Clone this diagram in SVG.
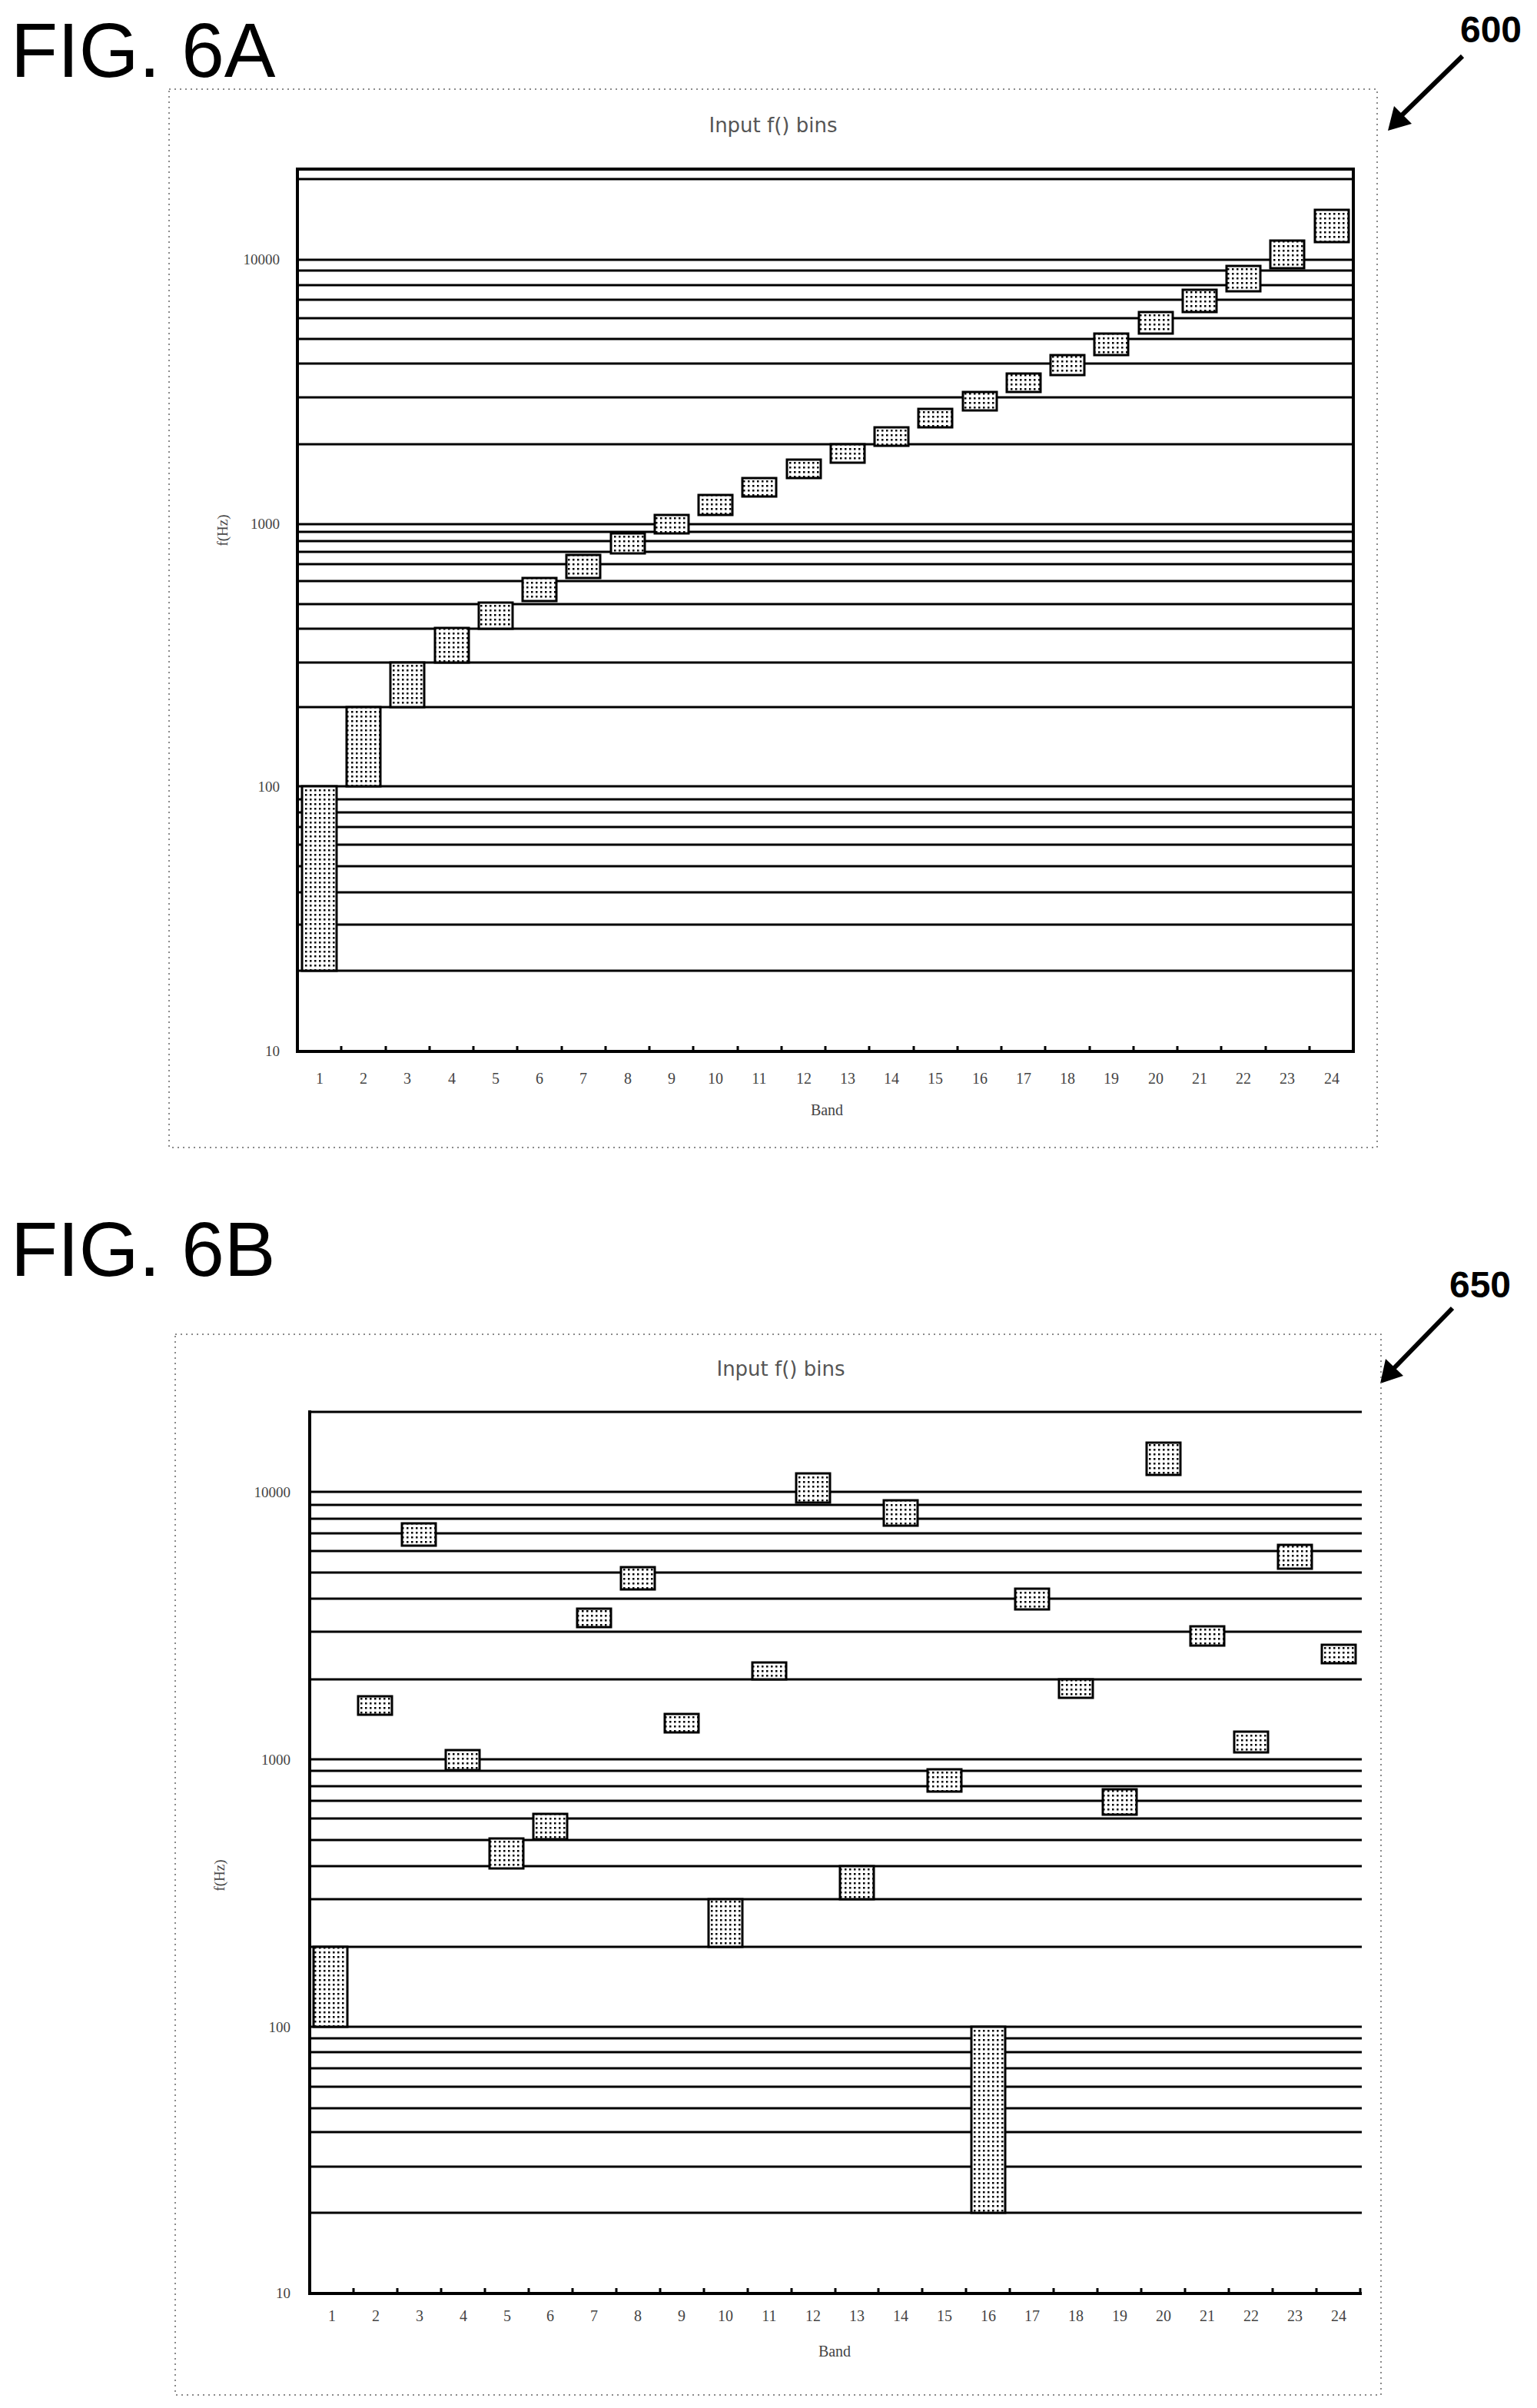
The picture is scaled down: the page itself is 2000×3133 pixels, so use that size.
<svg xmlns="http://www.w3.org/2000/svg" width="2000" height="3133" viewBox="0 0 2000 3133">
<defs>
<pattern id="dots" width="6" height="6" patternUnits="userSpaceOnUse"><rect width="6" height="6" fill="#fff"/><rect x="1" y="1" width="2.5" height="2.5" fill="#000"/></pattern>
<style>
.fig{font-family:"Liberation Sans",Arial,sans-serif;font-size:100px;fill:#000}
.ref{font-family:"Liberation Sans",Arial,sans-serif;font-size:48px;font-weight:bold;fill:#000}
.ttl{font-family:"DejaVu Sans",sans-serif;font-size:26px;fill:#555;text-anchor:middle}
.ax{font-family:"Liberation Serif",serif;font-size:19px;fill:#444}
.tk{font-family:"Liberation Serif",serif;font-size:20px;fill:#444;text-anchor:middle}
.border{fill:none;stroke:#666;stroke-width:1.5;stroke-dasharray:2 5}
.grid line{stroke:#000;stroke-width:3}
.axis{stroke:#000;stroke-width:4;fill:none}
.bar{fill:url(#dots);stroke:#000;stroke-width:3}
</style>
</defs>
<rect width="2000" height="3133" fill="#fff"/>

<!-- FIG 6A -->
<g id="fig6a">
<text class="fig" x="14" y="100">FIG. 6A</text>
<text class="ref" x="1940" y="55" text-anchor="middle">600</text>
<line x1="1903" y1="73" x2="1824" y2="150" stroke="#000" stroke-width="6"/>
<polygon points="1806,170 1814,138 1837,161" fill="#000"/>
<rect class="border" x="220" y="116" width="1572" height="1377"/>
<text class="ttl" x="1006" y="172">Input f() bins</text>
<g class="grid">
<line x1="387" y1="233" x2="1761" y2="233"/>
<line x1="387" y1="338" x2="1761" y2="338"/><line x1="387" y1="352" x2="1761" y2="352"/><line x1="387" y1="371" x2="1761" y2="371"/><line x1="387" y1="390" x2="1761" y2="390"/><line x1="387" y1="414" x2="1761" y2="414"/><line x1="387" y1="441" x2="1761" y2="441"/><line x1="387" y1="473" x2="1761" y2="473"/><line x1="387" y1="517" x2="1761" y2="517"/><line x1="387" y1="578" x2="1761" y2="578"/>
<line x1="387" y1="682" x2="1761" y2="682"/><line x1="387" y1="692" x2="1761" y2="692"/><line x1="387" y1="704" x2="1761" y2="704"/><line x1="387" y1="718" x2="1761" y2="718"/><line x1="387" y1="734" x2="1761" y2="734"/><line x1="387" y1="756" x2="1761" y2="756"/><line x1="387" y1="786" x2="1761" y2="786"/><line x1="387" y1="818" x2="1761" y2="818"/><line x1="387" y1="862" x2="1761" y2="862"/><line x1="387" y1="920" x2="1761" y2="920"/>
<line x1="387" y1="1023" x2="1761" y2="1023"/><line x1="387" y1="1040" x2="1761" y2="1040"/><line x1="387" y1="1057" x2="1761" y2="1057"/><line x1="387" y1="1076" x2="1761" y2="1076"/><line x1="387" y1="1099" x2="1761" y2="1099"/><line x1="387" y1="1127" x2="1761" y2="1127"/><line x1="387" y1="1161" x2="1761" y2="1161"/><line x1="387" y1="1203" x2="1761" y2="1203"/><line x1="387" y1="1263" x2="1761" y2="1263"/>
</g>
<path class="axis" d="M387,220 H1761 V1368 H387 Z"/>
<g class="grid">
<line x1="444" y1="1368" x2="444" y2="1361"/><line x1="502" y1="1368" x2="502" y2="1361"/><line x1="559" y1="1368" x2="559" y2="1361"/><line x1="616" y1="1368" x2="616" y2="1361"/><line x1="673" y1="1368" x2="673" y2="1361"/><line x1="731" y1="1368" x2="731" y2="1361"/><line x1="788" y1="1368" x2="788" y2="1361"/><line x1="845" y1="1368" x2="845" y2="1361"/><line x1="902" y1="1368" x2="902" y2="1361"/><line x1="960" y1="1368" x2="960" y2="1361"/><line x1="1017" y1="1368" x2="1017" y2="1361"/><line x1="1074" y1="1368" x2="1074" y2="1361"/><line x1="1131" y1="1368" x2="1131" y2="1361"/><line x1="1189" y1="1368" x2="1189" y2="1361"/><line x1="1246" y1="1368" x2="1246" y2="1361"/><line x1="1303" y1="1368" x2="1303" y2="1361"/><line x1="1360" y1="1368" x2="1360" y2="1361"/><line x1="1418" y1="1368" x2="1418" y2="1361"/><line x1="1475" y1="1368" x2="1475" y2="1361"/><line x1="1532" y1="1368" x2="1532" y2="1361"/><line x1="1589" y1="1368" x2="1589" y2="1361"/><line x1="1647" y1="1368" x2="1647" y2="1361"/><line x1="1704" y1="1368" x2="1704" y2="1361"/>
</g>
<g id="bars6a">
<rect class="bar" x="393" y="1023" width="45" height="240"/>
<rect class="bar" x="451" y="920" width="44" height="103"/>
<rect class="bar" x="508" y="862" width="44" height="58"/>
<rect class="bar" x="566" y="817" width="44" height="45"/>
<rect class="bar" x="623" y="784" width="44" height="34"/>
<rect class="bar" x="680" y="752" width="44" height="30"/>
<rect class="bar" x="737" y="722" width="44" height="30"/>
<rect class="bar" x="795" y="694" width="44" height="26"/>
<rect class="bar" x="852" y="670" width="44" height="24"/>
<rect class="bar" x="909" y="644" width="44" height="26"/>
<rect class="bar" x="966" y="622" width="44" height="24"/>
<rect class="bar" x="1024" y="598" width="44" height="24"/>
<rect class="bar" x="1081" y="578" width="44" height="24"/>
<rect class="bar" x="1138" y="556" width="44" height="24"/>
<rect class="bar" x="1195" y="532" width="44" height="24"/>
<rect class="bar" x="1253" y="510" width="44" height="24"/>
<rect class="bar" x="1310" y="486" width="44" height="24"/>
<rect class="bar" x="1367" y="462" width="44" height="26"/>
<rect class="bar" x="1424" y="434" width="44" height="28"/>
<rect class="bar" x="1482" y="406" width="44" height="28"/>
<rect class="bar" x="1539" y="377" width="44" height="29"/>
<rect class="bar" x="1596" y="346" width="44" height="33"/>
<rect class="bar" x="1653" y="313" width="44" height="36"/>
<rect class="bar" x="1711" y="273" width="44" height="42"/>
</g>
<text class="ax" x="364" y="344" text-anchor="end">10000</text>
<text class="ax" x="364" y="688" text-anchor="end">1000</text>
<text class="ax" x="364" y="1030" text-anchor="end">100</text>
<text class="ax" x="364" y="1374" text-anchor="end">10</text>
<text class="ax" transform="translate(296,690) rotate(-90)" text-anchor="middle">f(Hz)</text>
<g class="tk">
<text x="416" y="1410">1</text><text x="473" y="1410">2</text><text x="530" y="1410">3</text><text x="588" y="1410">4</text><text x="645" y="1410">5</text><text x="702" y="1410">6</text><text x="759" y="1410">7</text><text x="817" y="1410">8</text><text x="874" y="1410">9</text><text x="931" y="1410">10</text><text x="988" y="1410">11</text><text x="1046" y="1410">12</text><text x="1103" y="1410">13</text><text x="1160" y="1410">14</text><text x="1217" y="1410">15</text><text x="1275" y="1410">16</text><text x="1332" y="1410">17</text><text x="1389" y="1410">18</text><text x="1446" y="1410">19</text><text x="1504" y="1410">20</text><text x="1561" y="1410">21</text><text x="1618" y="1410">22</text><text x="1675" y="1410">23</text><text x="1733" y="1410">24</text>
<text x="1076" y="1451">Band</text>
</g>
</g>

<!-- FIG 6B -->
<g id="fig6b">
<text class="fig" x="14" y="1660">FIG. 6B</text>
<text class="ref" x="1926" y="1688" text-anchor="middle">650</text>
<line x1="1890" y1="1702" x2="1814" y2="1780" stroke="#000" stroke-width="6"/>
<polygon points="1796,1800 1803,1768 1826,1790" fill="#000"/>
<rect class="border" x="228" y="1736" width="1569" height="1380"/>
<text class="ttl" x="1016" y="1790">Input f() bins</text>
<g class="grid">
<line x1="403" y1="1837" x2="1772" y2="1837"/>
<line x1="403" y1="1941" x2="1772" y2="1941"/><line x1="403" y1="1958" x2="1772" y2="1958"/><line x1="403" y1="1976" x2="1772" y2="1976"/><line x1="403" y1="1995" x2="1772" y2="1995"/><line x1="403" y1="2018" x2="1772" y2="2018"/><line x1="403" y1="2046" x2="1772" y2="2046"/><line x1="403" y1="2080" x2="1772" y2="2080"/><line x1="403" y1="2123" x2="1772" y2="2123"/><line x1="403" y1="2185" x2="1772" y2="2185"/>
<line x1="403" y1="2289" x2="1772" y2="2289"/><line x1="403" y1="2304" x2="1772" y2="2304"/><line x1="403" y1="2324" x2="1772" y2="2324"/><line x1="403" y1="2343" x2="1772" y2="2343"/><line x1="403" y1="2366" x2="1772" y2="2366"/><line x1="403" y1="2394" x2="1772" y2="2394"/><line x1="403" y1="2428" x2="1772" y2="2428"/><line x1="403" y1="2471" x2="1772" y2="2471"/><line x1="403" y1="2533" x2="1772" y2="2533"/>
<line x1="403" y1="2637" x2="1772" y2="2637"/><line x1="403" y1="2652" x2="1772" y2="2652"/><line x1="403" y1="2670" x2="1772" y2="2670"/><line x1="403" y1="2691" x2="1772" y2="2691"/><line x1="403" y1="2715" x2="1772" y2="2715"/><line x1="403" y1="2743" x2="1772" y2="2743"/><line x1="403" y1="2774" x2="1772" y2="2774"/><line x1="403" y1="2819" x2="1772" y2="2819"/><line x1="403" y1="2879" x2="1772" y2="2879"/>
</g>
<path class="axis" d="M403,1835 V2984 H1772"/>
<g class="grid">
<line x1="460" y1="2984" x2="460" y2="2977"/><line x1="517" y1="2984" x2="517" y2="2977"/><line x1="574" y1="2984" x2="574" y2="2977"/><line x1="631" y1="2984" x2="631" y2="2977"/><line x1="688" y1="2984" x2="688" y2="2977"/><line x1="745" y1="2984" x2="745" y2="2977"/><line x1="802" y1="2984" x2="802" y2="2977"/><line x1="859" y1="2984" x2="859" y2="2977"/><line x1="916" y1="2984" x2="916" y2="2977"/><line x1="973" y1="2984" x2="973" y2="2977"/><line x1="1030" y1="2984" x2="1030" y2="2977"/><line x1="1087" y1="2984" x2="1087" y2="2977"/><line x1="1143" y1="2984" x2="1143" y2="2977"/><line x1="1200" y1="2984" x2="1200" y2="2977"/><line x1="1257" y1="2984" x2="1257" y2="2977"/><line x1="1314" y1="2984" x2="1314" y2="2977"/><line x1="1371" y1="2984" x2="1371" y2="2977"/><line x1="1428" y1="2984" x2="1428" y2="2977"/><line x1="1485" y1="2984" x2="1485" y2="2977"/><line x1="1542" y1="2984" x2="1542" y2="2977"/><line x1="1599" y1="2984" x2="1599" y2="2977"/><line x1="1656" y1="2984" x2="1656" y2="2977"/><line x1="1713" y1="2984" x2="1713" y2="2977"/><line x1="1770" y1="2984" x2="1770" y2="2977"/>
</g>
<g id="bars6b">
<rect class="bar" x="408" y="2533" width="44" height="104"/>
<rect class="bar" x="466" y="2207" width="44" height="24"/>
<rect class="bar" x="523" y="1982" width="44" height="29"/>
<rect class="bar" x="580" y="2277" width="44" height="26"/>
<rect class="bar" x="637" y="2392" width="44" height="39"/>
<rect class="bar" x="694" y="2360" width="44" height="33"/>
<rect class="bar" x="751" y="2093" width="44" height="24"/>
<rect class="bar" x="808" y="2039" width="44" height="29"/>
<rect class="bar" x="865" y="2230" width="44" height="24"/>
<rect class="bar" x="922" y="2471" width="44" height="62"/>
<rect class="bar" x="979" y="2163" width="44" height="22"/>
<rect class="bar" x="1036" y="1917" width="44" height="38"/>
<rect class="bar" x="1093" y="2428" width="44" height="43"/>
<rect class="bar" x="1150" y="1952" width="44" height="33"/>
<rect class="bar" x="1207" y="2302" width="44" height="29"/>
<rect class="bar" x="1264" y="2637" width="44" height="242"/>
<rect class="bar" x="1321" y="2067" width="44" height="27"/>
<rect class="bar" x="1378" y="2185" width="44" height="24"/>
<rect class="bar" x="1435" y="2328" width="44" height="33"/>
<rect class="bar" x="1492" y="1877" width="44" height="42"/>
<rect class="bar" x="1549" y="2116" width="44" height="25"/>
<rect class="bar" x="1606" y="2253" width="44" height="27"/>
<rect class="bar" x="1663" y="2010" width="44" height="31"/>
<rect class="bar" x="1720" y="2140" width="44" height="24"/>
</g>
<text class="ax" x="378" y="1948" text-anchor="end">10000</text>
<text class="ax" x="378" y="2296" text-anchor="end">1000</text>
<text class="ax" x="378" y="2644" text-anchor="end">100</text>
<text class="ax" x="378" y="2990" text-anchor="end">10</text>
<text class="ax" transform="translate(292,2440) rotate(-90)" text-anchor="middle">f(Hz)</text>
<g class="tk">
<text x="432" y="3020">1</text><text x="489" y="3020">2</text><text x="546" y="3020">3</text><text x="603" y="3020">4</text><text x="660" y="3020">5</text><text x="716" y="3020">6</text><text x="773" y="3020">7</text><text x="830" y="3020">8</text><text x="887" y="3020">9</text><text x="944" y="3020">10</text><text x="1001" y="3020">11</text><text x="1058" y="3020">12</text><text x="1115" y="3020">13</text><text x="1172" y="3020">14</text><text x="1229" y="3020">15</text><text x="1286" y="3020">16</text><text x="1343" y="3020">17</text><text x="1400" y="3020">18</text><text x="1457" y="3020">19</text><text x="1514" y="3020">20</text><text x="1571" y="3020">21</text><text x="1628" y="3020">22</text><text x="1685" y="3020">23</text><text x="1742" y="3020">24</text>
<text x="1086" y="3066">Band</text>
</g>
</g>
</svg>
